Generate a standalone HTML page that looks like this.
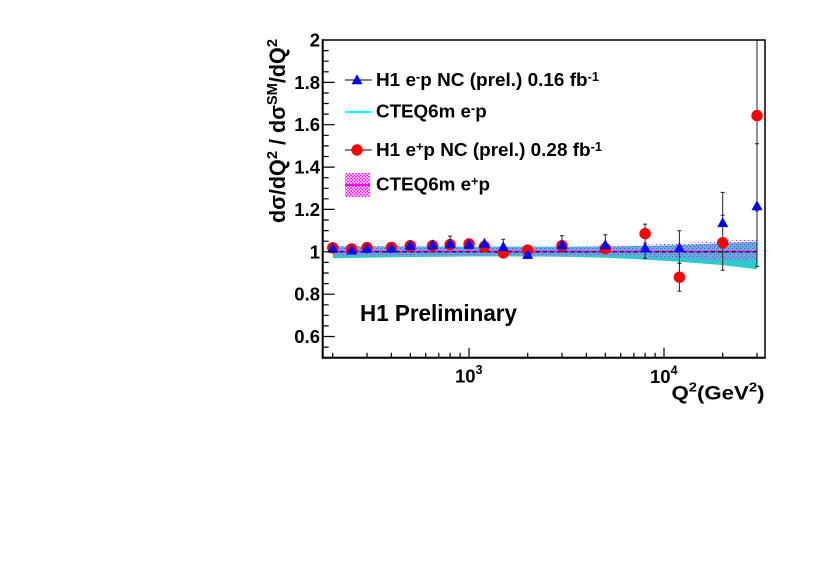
<!DOCTYPE html>
<html><head><meta charset="utf-8"><style>
html,body{margin:0;padding:0;background:#fff;}
svg{display:block;}
text{font-family:"Liberation Sans",Arial,sans-serif;font-weight:bold;fill:#000;}
</style></head><body>
<svg width="822" height="575" viewBox="0 0 822 575" xmlns="http://www.w3.org/2000/svg">
<defs>
<pattern id="h" width="4" height="4" patternUnits="userSpaceOnUse">
<rect x="0" y="0" width="1" height="1" fill="#ff00ff"/>
<rect x="2" y="2" width="1" height="1" fill="#ff00ff"/>
</pattern>
<pattern id="hl" width="3.2" height="3.2" patternUnits="userSpaceOnUse">
<rect x="0" y="0" width="1.6" height="1.6" fill="#ff00ff"/>
<rect x="1.6" y="1.6" width="1.6" height="1.6" fill="#ff00ff"/>
</pattern>
<path id="t" d="M-5.5,5 L5.5,5 L0,-5Z" fill="#0000ff"/>
</defs>
<rect width="822" height="575" fill="#fff"/>

<!-- cyan band -->
<polygon fill="#2ccaca" points="332.7,246.5 410.3,246.5 469,246.7 527.7,246.7 562,246.7 605.3,246.5 645.1,245.9 679.4,245.0 722.7,243.3 757,241.6 757,269.2 722.7,265.1 679.4,261.8 645.1,259.6 605.3,257.7 562,256.7 527.7,256.5 469,256.5 410.3,257.1 332.7,258.2"/>
<!-- hatch band -->
<polygon fill="url(#h)" points="332.7,245.9 469,246.5 562,246.5 605.3,246.1 645.1,244.8 679.4,243.3 722.7,241.2 757,238.7 757,260.3 722.7,259.2 679.4,257.7 645.1,256.5 605.3,255.4 562,255.0 469,255.0 332.7,255.6"/>
<line x1="332.7" y1="251.8" x2="757" y2="251.8" stroke="#ff00ff" stroke-width="1.5"/>
<line x1="332.7" y1="251.8" x2="757" y2="251.8" stroke="#000" stroke-width="1.2" stroke-dasharray="4 3"/>

<!-- error bars -->
<path fill="none" stroke="#222" stroke-width="1" d="
M332.7,245.3V250.3 M351.6,246.5V251.6 M367,245V250.1 M391.4,244.8V249.9 M410.3,242.9V248.4 M432.5,242.7V248.7 M450.1,241.4V247.8 M469,240.8V247.2 M484.4,243.3V250.1 M503.3,249.1V256.7 M527.7,246.3V253.9 M562,241.5V249.9 M605.3,243.3V253.9 M645.1,224.1V243.1 M679.4,263.2V291.2 M722.7,215.2V270.2 M757,40V210.9
M643.1,224.1h4 M643.1,243.1h4 M677.4,263.2h4 M677.4,291.2h4 M720.7,215.2h4 M720.7,270.2h4 M755,210.9h4
M332.7,245.1V250.1 M351.6,247V252 M367,245.3V250.3 M391.4,244.9V250.4 M410.3,241.8V247.8 M432.5,241V247.4 M450.1,236.1V250.1 M469,240.2V247.4 M484.4,238.5V246.9 M503.3,239.3V253.3 M527.7,249.7V258.1 M562,235.7V252.7 M605.3,234.7V253.7 M645.1,236.4V258.4 M679.4,230.8V263.4 M722.7,192.4V251.8 M757,143.8V266.6
M448.1,236.1h4 M501.3,239.3h4 M525.7,258.1h4 M560,235.7h4 M603.3,234.7h4 M643.1,236.4h4 M643.1,258.4h4 M677.4,230.8h4 M677.4,263.4h4 M720.7,192.4h4 M755,143.8h4 M755,266.6h4"/>

<!-- red circles -->
<g fill="#ff0000">
<circle cx="332.7" cy="247.8" r="5.7"/><circle cx="351.6" cy="249.0" r="5.7"/><circle cx="367" cy="247.6" r="5.7"/>
<circle cx="391.4" cy="247.4" r="5.7"/><circle cx="410.3" cy="245.7" r="5.7"/><circle cx="432.5" cy="245.7" r="5.7"/>
<circle cx="450.1" cy="244.6" r="5.7"/><circle cx="469" cy="244.0" r="5.7"/><circle cx="484.4" cy="246.7" r="5.7"/>
<circle cx="503.3" cy="252.9" r="5.7"/><circle cx="527.7" cy="250.1" r="5.7"/><circle cx="562" cy="245.7" r="5.7"/>
<circle cx="605.3" cy="248.6" r="5.7"/><circle cx="645.1" cy="233.6" r="5.7"/><circle cx="679.4" cy="277.2" r="5.7"/>
<circle cx="722.7" cy="242.7" r="5.7"/><circle cx="757" cy="115.6" r="5.7"/>
</g>
<!-- blue triangles -->
<use href="#t" x="332.7" y="247.6"/><use href="#t" x="351.6" y="249.5"/><use href="#t" x="367" y="247.8"/>
<use href="#t" x="391.4" y="247.6"/><use href="#t" x="410.3" y="244.8"/><use href="#t" x="432.5" y="244.2"/>
<use href="#t" x="450.1" y="243.1"/><use href="#t" x="469" y="243.8"/><use href="#t" x="484.4" y="242.7"/>
<use href="#t" x="503.3" y="246.3"/><use href="#t" x="527.7" y="253.9"/><use href="#t" x="562" y="244.2"/>
<use href="#t" x="605.3" y="244.2"/><use href="#t" x="645.1" y="247.4"/><use href="#t" x="679.4" y="247.1"/>
<use href="#t" x="722.7" y="222.1"/><use href="#t" x="757" y="205.2"/>

<!-- frame -->
<rect x="322.7" y="40" width="442.3" height="317.7" fill="none" stroke="#000" stroke-width="1.5"/>
<line x1="322.7" y1="39.3" x2="322.7" y2="358.7" stroke="#000" stroke-width="2"/>
<line x1="321.7" y1="357.7" x2="765.7" y2="357.7" stroke="#000" stroke-width="2"/>

<!-- y ticks -->
<path stroke="#000" stroke-width="1.2" fill="none" d="
M322.7,336.5h12 M322.7,294.2h12 M322.7,251.8h12 M322.7,209.4h12 M322.7,167.1h12 M322.7,124.7h12 M322.7,82.4h12
M322.7,347.1h6 M322.7,325.9h6 M322.7,315.3h6 M322.7,304.8h6 M322.7,283.6h6 M322.7,273h6 M322.7,262.4h6
M322.7,241.2h6 M322.7,230.6h6 M322.7,220h6 M322.7,198.8h6 M322.7,188.3h6 M322.7,177.7h6 M322.7,156.5h6
M322.7,145.9h6 M322.7,135.3h6 M322.7,114.1h6 M322.7,103.5h6 M322.7,93h6 M322.7,71.8h6 M322.7,61.2h6 M322.7,50.6h6"/>
<!-- x ticks -->
<path stroke="#000" stroke-width="1.2" fill="none" d="
M469,357.7v-10 M664,357.7v-10
M332.7,357.7v-5 M367,357.7v-5 M391.4,357.7v-5 M410.3,357.7v-5 M425.7,357.7v-5 M438.8,357.7v-5 M450.1,357.7v-5 M460.1,357.7v-5
M527.7,357.7v-5 M562,357.7v-5 M586.4,357.7v-5 M605.3,357.7v-5 M620.7,357.7v-5 M633.8,357.7v-5 M645.1,357.7v-5 M655.1,357.7v-5
M722.7,357.7v-5 M757,357.7v-5"/>

<!-- y tick labels -->
<g font-size="18.5" text-anchor="end">
<text x="320" y="46.7">2</text>
<text x="320" y="89">1.8</text>
<text x="320" y="131.2">1.6</text>
<text x="320" y="173.6">1.4</text>
<text x="320" y="215.9">1.2</text>
<text x="320" y="258.3">1</text>
<text x="320" y="300.7">0.8</text>
<text x="320" y="343">0.6</text>
</g>
<!-- x tick labels -->
<text x="455" y="382.5" font-size="18.5">10<tspan font-size="12.5" dy="-8.5">3</tspan></text>
<text x="650" y="383" font-size="18.5">10<tspan font-size="12.5" dy="-8.5">4</tspan></text>
<text x="671.5" y="399.5" font-size="19.5" textLength="93" lengthAdjust="spacingAndGlyphs">Q<tspan font-size="13" dy="-8">2</tspan><tspan dy="8">(GeV</tspan><tspan font-size="13" dy="-8">2</tspan><tspan dy="8">)</tspan></text>

<!-- y title -->
<text transform="translate(285,223) rotate(-90)" x="0" y="0" font-size="22" textLength="184" lengthAdjust="spacingAndGlyphs">dσ/dQ<tspan font-size="15" dy="-8">2</tspan><tspan dy="8"> / dσ</tspan><tspan font-size="15" dy="-8">SM</tspan><tspan dy="8">/dQ</tspan><tspan font-size="15" dy="-8">2</tspan></text>

<!-- H1 Preliminary -->
<text x="360" y="321" font-size="23" textLength="157" lengthAdjust="spacingAndGlyphs">H1 Preliminary</text>

<!-- legend -->
<line x1="345" y1="80" x2="371.7" y2="80" stroke="#000" stroke-width="1"/>
<use href="#t" x="357" y="79.3"/>
<text x="376" y="86" font-size="18.5" textLength="223" lengthAdjust="spacingAndGlyphs">H1 e<tspan font-size="12.5" dy="-5">-</tspan><tspan dy="5">p NC (prel.) 0.16 fb</tspan><tspan font-size="12.5" dy="-5">-1</tspan></text>

<line x1="345" y1="112" x2="371.7" y2="112" stroke="#00ffff" stroke-width="2"/>
<text x="376" y="117.7" font-size="18.5" textLength="110.7" lengthAdjust="spacingAndGlyphs">CTEQ6m e<tspan font-size="12.5" dy="-5">-</tspan><tspan dy="5">p</tspan></text>

<line x1="345" y1="150" x2="371.7" y2="150" stroke="#000" stroke-width="1"/>
<circle cx="357" cy="150" r="5.7" fill="#ff0000"/>
<text x="376" y="156" font-size="18.5" textLength="226" lengthAdjust="spacingAndGlyphs">H1 e<tspan font-size="12.5" dy="-5">+</tspan><tspan dy="5">p NC (prel.) 0.28 fb</tspan><tspan font-size="12.5" dy="-5">-1</tspan></text>

<rect x="345" y="173" width="25" height="24" fill="url(#hl)"/>
<line x1="345" y1="185" x2="370" y2="185" stroke="#ff00ff" stroke-width="2"/>
<text x="376" y="190.7" font-size="18.5" textLength="114" lengthAdjust="spacingAndGlyphs">CTEQ6m e<tspan font-size="12.5" dy="-5">+</tspan><tspan dy="5">p</tspan></text>
</svg>
</body></html>
